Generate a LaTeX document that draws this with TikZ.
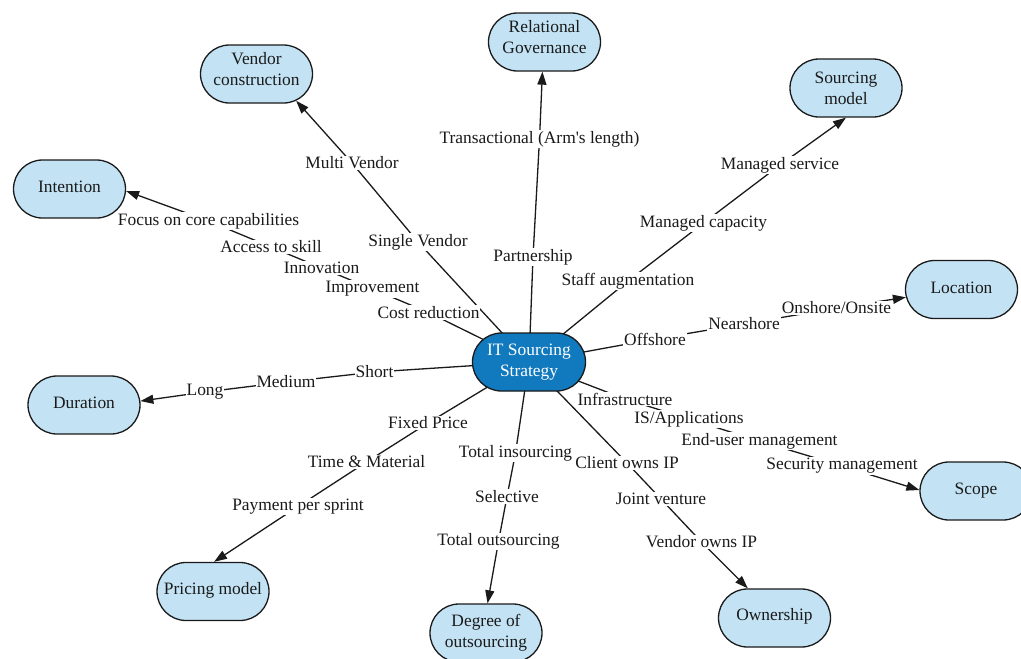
\documentclass[tikz,border=0pt]{standalone}
\usepackage{fontspec}
\setmainfont{Liberation Serif}
\usetikzlibrary{shapes.misc,arrows.meta,backgrounds}
\definecolor{conceptfill}{HTML}{C3E3F5}
\definecolor{corefill}{HTML}{1179BD}
\definecolor{inkline}{HTML}{1A1A1A}
% straight apostrophe, bypassing the TeX quote mapping
\newcommand{\sq}{\XeTeXglyph\XeTeXcharglyph"0027\relax}

\begin{document}
\begin{tikzpicture}[x=1pt,y=-1pt,
  font=\fontsize{17.4}{21}\selectfont,
  concept/.style={rounded rectangle, draw=inkline, line width=1.3pt,
    fill=conceptfill, text=inkline, minimum width=116pt, minimum height=58pt,
    align=center, inner sep=2pt},
  core/.style={concept, fill=corefill, text=white, minimum width=117pt},
  lift/.style={text depth=#1},
  link/.style={fill=white, text=inkline, inner sep=1pt},
  conn/.style={draw=inkline, line width=1.3pt},
  toconcept/.style={conn, -{Triangle[length=13pt,width=9pt]}}]

\useasboundingbox (0,0) rectangle (1021,659);

% concepts
\node[core]    (core)    at (529,362)     {IT Sourcing\\Strategy};
\node[concept,lift=10pt] (rel)    at (544.5,42) {Relational\\Governance};
\node[concept,lift=11pt] (vendor) at (256.5,74) {Vendor\\construction};
\node[concept] (smodel)  at (846,88)      {Sourcing\\model};
\node[concept,lift=5pt] (intent) at (69.5,189)    {Intention};
\node[concept,lift=4pt] (loc)    at (961.5,289.5) {Location};
\node[concept,lift=4pt] (dur)    at (84,405)      {Duration};
\node[concept,lift=4pt] (scope)  at (976,491)     {Scope};
\node[concept,lift=7pt] (pricing) at (213,591.5)  {Pricing model};
\node[concept] (degree)  at (486,633)     {Degree of\\outsourcing};
\node[concept,lift=7pt] (owner)  at (774.5,618)   {Ownership};

% linking phrases
\node[link] (partner)  at (533,257)    {Partnership};
\node[link] (trans)    at (539.5,139)  {Transactional (Arm\sq s length)};

\node[link] (single)   at (418,242)    {Single Vendor};
\node[link] (multi)    at (352,163)    {Multi Vendor};

\node[link] (costred)  at (428.5,312.5) {Cost reduction};
\node[link] (improve)  at (372.5,289)  {Improvement};
\node[link] (innov)    at (321.5,268)  {Innovation};
\node[link] (skill)    at (271,247)    {Access to skill};
\node[link] (focus)    at (208.5,221)  {Focus on core capabilities};

\node[link] (short)    at (374.5,372)  {Short};
\node[link] (medium)   at (286,382)    {Medium};
\node[link] (long)     at (205,392)    {Long};

\node[link] (fixed)    at (428,423)    {Fixed Price};
\node[link] (tm)       at (366.5,462)  {Time \& Material};
\node[link] (sprint)   at (298,506.5)  {Payment per sprint};

\node[link] (insrc)    at (515.5,453)  {Total insourcing};
\node[link] (select)   at (507,496.5)  {Selective};
\node[link] (outsrc)   at (498.5,541.5) {Total outsourcing};

\node[link] (client)   at (627,463)    {Client owns IP};
\node[link] (joint)    at (661,499)    {Joint venture};
\node[link] (vendorip) at (701.5,542)  {Vendor owns IP};

\node[link] (infra)    at (625,399)    {Infrastructure};
\node[link] (isapp)    at (689,419)    {IS/Applications};
\node[link] (enduser)  at (759.5,441)  {End-user management};
\node[link] (security) at (842,466)    {Security management};

\node[link] (offshore) at (655,339)    {Offshore};
\node[link] (near)     at (744,324)    {Nearshore};
\node[link] (onshore)  at (836.5,308)  {Onshore/Onsite};

\node[link] (staff)    at (628,281)    {Staff augmentation};
\node[link] (mcap)     at (703.5,223)  {Managed capacity};
\node[link] (mserv)    at (780,165)    {Managed service};

% connectors run behind the phrases
\begin{scope}[on background layer]
  \fill[white] (0,0) rectangle (1021,659);

  \draw[conn] (core.center) -- (partner.center) -- (trans.center);
  \draw[toconcept] (trans.center) -- (rel.266);

  \draw[conn] (core.center) -- (single.center) -- (multi.center);
  \draw[toconcept] (multi.center) -- (vendor.326);

  \draw[conn] (core.center) -- (costred.center) -- (improve.center)
    -- (innov.center) -- (skill.center) -- (focus.center);
  \draw[toconcept] (focus.center) -- (intent.358);

  \draw[conn] (core.center) -- (short.center) -- (medium.center) -- (long.center);
  \draw[toconcept] (long.center) -- (dur.4);

  \draw[conn] (core.center) -- (fixed.center) -- (tm.center) -- (sprint.center);
  \draw[toconcept] (sprint.center) -- (pricing.88);

  \draw[conn] (core.center) -- (insrc.center) -- (select.center) -- (outsrc.center);
  \draw[toconcept] (outsrc.center) -- (degree.87);

  \draw[conn] (core.center) -- (client.center) -- (joint.center) -- (vendorip.center);
  \draw[toconcept] (vendorip.center) -- (owner.132);

  \draw[conn] (core.center) -- (infra.center) -- (isapp.center)
    -- (enduser.center) -- (security.center);
  \draw[toconcept] (security.center) -- (scope.179);

  \draw[conn] (core.center) -- (offshore.center) -- (near.center) -- (onshore.center);
  \draw[toconcept] (onshore.center) -- (loc.188);

  \draw[conn] (core.center) -- (staff.center) -- (mcap.center) -- (mserv.center);
  \draw[toconcept] (mserv.center) -- (smodel.270);
\end{scope}
\end{tikzpicture}
\end{document}
